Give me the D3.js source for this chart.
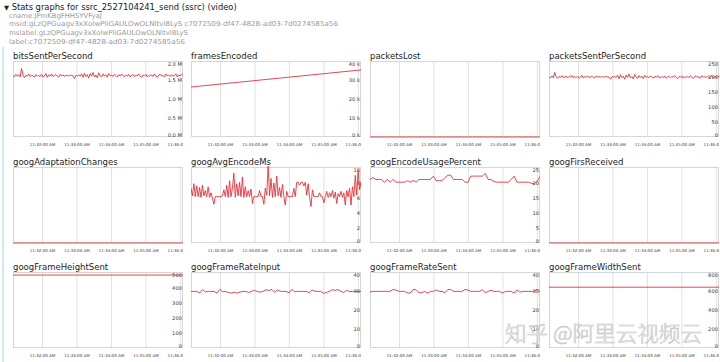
<!DOCTYPE html>
<html><head><meta charset="utf-8">
<script src="https://cdn.jsdelivr.net/npm/d3@7/dist/d3.min.js"></script>
<style>html,body{margin:0;padding:0;background:#fff;}svg{display:block}</style>
</head><body>
<svg id="chart" width="720" height="362"></svg>
<script>
// ---------- data ----------
const headerTitle = "Stats graphs for ssrc_2527104241_send (ssrc) (video)";
const metaLines = [
  "cname:JPmKBgFHH5YVFyaJ",
  "msid:gLzQPGuagv3xXolwPliGAULOwOLNltvl8LyS c7072509-df47-4828-ad03-7d0274585a56",
  "mslabel:gLzQPGuagv3xXolwPliGAULOwOLNltvl8LyS",
  "label:c7072509-df47-4828-ad03-7d0274585a56"
];
const graphNames = ["bitsSentPerSecond","framesEncoded","packetsLost","packetsSentPerSecond",
  "googAdaptationChanges","googAvgEncodeMs","googEncodeUsagePercent","googFirsReceived",
  "googFrameHeightSent","googFrameRateInput","googFrameRateSent","googFrameWidthSent"];
const watermark = "知乎 @阿里云视频云";

const startTime = new Date(2018, 0, 1, 11, 31, 9, 500);
const endTime   = new Date(2018, 0, 1, 11, 36, 5, 500);

// bitsSentPerSecond in Mbps
const bitsSentPerSecond = [
 1.62,1.59,1.65,1.60,1.64,1.58,1.80,1.63,1.56,1.62,
 1.60,1.66,1.59,1.63,1.61,1.57,1.64,1.60,1.62,1.59,
 1.65,1.58,1.61,1.67,1.57,1.63,1.60,1.66,1.59,1.62,
 1.64,1.60,1.58,1.65,1.61,1.63,1.60,1.62,1.62,1.61,
 1.63,1.62,1.61,1.54,1.62,1.61,1.63,1.60,1.66,1.57,
 1.68,1.59,1.64,1.55,1.67,1.60,1.70,1.58,1.63,1.56,
 1.69,1.61,1.58,1.66,1.60,1.64,1.57,1.67,1.61,1.63,
 1.59,1.65,1.62,1.58,1.64,1.60,1.66,1.61,1.59,1.63,
 1.60,1.65,1.58,1.62,1.64,1.59,1.63,1.61,1.66,1.60,
 1.57,1.63,1.61,1.65,1.58,1.62,1.60,1.64,1.59,1.66,
 1.61,1.57,1.63,1.65,1.60,1.62,1.58,1.66,1.61,1.63,
 1.59,1.64,1.60,1.62,1.66,1.58,1.63,1.61,1.65,1.62];
const framesEncoded = [26300, 30800, 35300];
const packetsLost = [0, 0];
const packetsSentPerSecond = [
 197,194,201,195,212,198,193,199,196,202,
 195,198,200,194,199,197,203,195,198,196,
 200,193,197,203,194,199,196,201,195,198,
 200,196,194,201,197,199,196,198,198,197,
 199,198,197,190,198,197,199,196,203,192,
 205,195,200,190,204,196,207,194,199,191,
 206,197,193,202,196,200,192,203,197,199,
 195,201,198,193,200,196,202,197,194,199,
 196,201,193,198,200,195,199,197,202,196,
 192,199,197,201,193,198,196,200,195,202,
 197,192,199,201,196,198,193,202,197,199,
 195,200,196,198,202,194,199,197,201,198];
const googAdaptationChanges = [0, 0];
const googAvgEncodeMs = [
 7.2,6.2,7.8,6.1,7.5,6.1,7.3,6.0,7.6,6.2,
 6.9,6.1,7.4,6.0,6.6,5.9,5.1,6.1,6.1,6.1,
 6.1,6.1,6.2,7.0,6.1,7.6,6.0,8.2,6.1,7.2,
 9.2,6.0,7.8,6.2,8.0,6.1,8.7,6.0,7.4,6.1,
 6.9,6.1,7.1,5.2,6.1,6.1,6.1,6.1,6.9,6.1,
 6.1,5.1,7.2,6.3,10.2,6.2,8.5,6.0,7.9,6.1,
 8.8,6.2,7.3,6.0,7.7,6.1,5.0,6.8,6.1,6.1,
 6.1,6.1,7.2,6.1,8.0,8.0,7.6,8.0,8.0,7.5,
 8.0,6.3,7.8,6.0,4.8,7.0,6.1,6.1,6.1,6.1,
 6.6,6.1,6.1,5.3,6.1,6.8,6.0,6.6,6.1,6.9,
 5.9,6.7,5.2,6.5,6.1,6.8,6.0,6.6,5.0,6.9,
 6.1,7.2,5.0,7.4,6.1,8.9,6.3,9.6,7.0,8.1];
const googEncodeUsagePercent = [
 20.9,21.5,20.9,20.9,20.9,20.0,20.9,20.0,20.9,20.0,
 20.0,20.0,20.0,20.5,20.0,20.6,20.0,20.9,20.9,20.9,
 20.9,20.9,22.0,20.5,20.5,20.5,21.5,22.3,22.3,20.9,
 20.9,20.9,20.9,20.0,20.0,22.0,22.0,22.0,22.0,22.0,
 22.9,20.9,20.9,20.2,20.0,20.0,20.0,20.0,20.0,20.9,
 22.0,20.0,20.0,20.0,20.0,20.0,19.6,19.6,20.2,21.9];
const googFirsReceived = [0, 0];
const googFrameHeightSent = [480, 480];
const googFrameRateInput = [
 29.8,29.8,29.8,28.9,30.8,29.5,29.8,29.8,29.8,28.8,
 30.9,29.6,29.8,29.2,28.9,29.3,28.9,29.5,29.8,29.8,
 29.2,29.8,30.3,29.8,29.4,29.8,30.7,30.2,30.9,29.3,
 30.6,29.8,29.8,29.8,29.0,30.8,29.6,29.8,29.8,29.8,
 29.8,29.1,30.6,29.8,29.8,29.8,28.8,29.2,29.8,30.7,
 30.3,30.8,29.8,29.3,30.4,29.6,29.8,29.8,29.8,29.8];
const googFrameRateSent = [
 29.5,29.8,29.8,29.8,29.8,29.8,29.8,29.8,30.8,30.5,
 29.8,29.8,29.8,29.0,28.9,30.9,30.7,29.0,29.2,29.8,
 28.8,29.8,29.8,30.6,29.8,29.8,29.1,30.7,30.8,29.8,
 29.8,29.8,29.8,30.8,30.5,29.8,29.8,29.8,29.8,30.6,
 29.1,29.8,30.4,29.8,29.8,29.8,28.9,29.8,29.8,29.8,
 28.9,30.6,29.4,29.8,29.8,29.8,29.8,29.8,30.9,29.6];
const googFrameWidthSent = [640, 640];

const yMaxes = [2.0, 40000, 1, 250, 1, 10, 25, 1, 500, 40, 40, 800];
const tickValues = [
  [0,0.5,1,1.5,2], [0,10000,20000,30000,40000], [], [0,50,100,150,200,250],
  [], [0,2,4,6,8,10], [0,5,10,15,20,25], [],
  [0,100,200,300,400,500], [0,10,20,30,40], [0,10,20,30,40], [0,200,400,600,800]];
const tickLabels = [
  ["0.0 M","0.5 M","1.0 M","1.5 M","2.0 M"], ["0 k","10 k","20 k","30 k","40 k"], [], ["0","50","100","150","200","250"],
  [], ["0","2","4","6","8","10"], ["0","5","10","15","20","25"], [],
  ["0","100","200","300","400","500"], ["0","10","20","30","40"], ["0","10","20","30","40"], ["0","200","400","600","800"]];
const seriesList = [bitsSentPerSecond, framesEncoded, packetsLost, packetsSentPerSecond,
  googAdaptationChanges, googAvgEncodeMs, googEncodeUsagePercent, googFirsReceived,
  googFrameHeightSent, googFrameRateInput, googFrameRateSent, googFrameWidthSent];

// ---------- drawing ----------
const svg = d3.select("#chart");
const defs = svg.append("defs");
const FONT = "'DejaVu Sans', 'Lucida Grande', sans-serif";

// left panel border
svg.append("line").attr("x1", 3).attr("x2", 3).attr("y1", 47).attr("y2", 362)
  .attr("stroke", "#c4e5ee").attr("stroke-width", 1.6);

// header
svg.append("text").attr("x", 4).attr("y", 9.6).attr("font-family", FONT).attr("font-size", 6.5)
  .attr("fill", "#222").text("▼");
svg.append("text").attr("x", 11.7).attr("y", 10).attr("font-family", FONT).attr("font-size", 8.2)
  .attr("fill", "#1a1a1a").attr("textLength", 225).attr("lengthAdjust", "spacingAndGlyphs").text(headerTitle);
const metaWidths = [92.7, 329, 179, 176];
const metaY = [17.6, 26.4, 35.0, 43.6];
metaLines.forEach((t, i) => {
  svg.append("text").attr("x", 9).attr("y", metaY[i]).attr("font-family", FONT).attr("font-size", 6.8)
    .attr("fill", "#9a9a9a").attr("textLength", metaWidths[i]).attr("lengthAdjust", "spacingAndGlyphs").text(t);
});

const colX = [13, 191, 370, 549], rowY = [61, 167, 272];
const W = 170, H = 76;
const x = d3.scaleTime().domain([startTime, endTime]).range([0, W]);
const minuteTicks = d3.timeMinute.every(1);
const fmt = d3.timeFormat("%-I:%M:%S %p");

graphNames.forEach((name, i) => {
  const gx = colX[i % 4], gy = rowY[Math.floor(i / 4)];
  const values = seriesList[i];
  const y = d3.scaleLinear().domain([0, yMaxes[i]]).range([H, 0]);
  const g = svg.append("g").attr("transform", `translate(${gx},${gy})`);
  const cid = "clip" + i;
  defs.append("clipPath").attr("id", cid).append("rect")
    .attr("x", 0).attr("y", -1).attr("width", W).attr("height", H + 14);

  g.append("text").attr("x", 0).attr("y", -2).attr("font-family", FONT).attr("font-size", 8.5)
    .attr("fill", "#1e1e1e").text(name);

  const inner = g.append("g").attr("clip-path", `url(#${cid})`);

  // vertical gridlines
  const grid = inner.append("g").attr("transform", `translate(0,${H})`)
    .call(d3.axisBottom(x).ticks(minuteTicks).tickSize(-H).tickFormat(""));
  grid.select(".domain").remove();
  grid.selectAll("line").attr("stroke", "#dedede").attr("stroke-width", 0.9);

  // plot frame
  inner.append("rect").attr("x", 0.5).attr("y", 0.5).attr("width", W - 1).attr("height", H - 1)
    .attr("fill", "none").attr("stroke", "#d6d6d6").attr("stroke-width", 1);

  // time labels
  const tAxis = inner.append("g").attr("transform", `translate(0,${H})`)
    .call(d3.axisBottom(x).ticks(minuteTicks).tickSize(0).tickPadding(0).tickFormat(fmt));
  tAxis.select(".domain").remove();
  tAxis.selectAll("text").attr("y", 8.6).attr("dy", null).attr("font-family", FONT)
    .attr("font-size", 3.9).attr("fill", "#3a3a3a")
    .attr("textLength", 25.5).attr("lengthAdjust", "spacingAndGlyphs");

  // y labels (inside, right-aligned)
  if (tickValues[i].length) {
    const labs = tickLabels[i];
    const yAxis = inner.append("g").attr("transform", `translate(${W - 1},0)`)
      .call(d3.axisLeft(y).tickValues(tickValues[i]).tickSize(0).tickPadding(0)
        .tickFormat((d, k) => labs[k]));
    yAxis.select(".domain").remove();
    yAxis.selectAll("text").attr("font-family", FONT).attr("font-size", 5.2).attr("fill", "#3a3a3a")
      .attr("dy", d => d === yMaxes[i] ? "0.95em" : (d === 0 ? "-0.15em" : "0.35em"));
  }

  // data line
  const n = values.length;
  const span = endTime - startTime;
  const times = values.map((_, j) => new Date(+startTime + span * j / (n - 1)));
  const line = d3.line().x((d, j) => x(times[j])).y(d => y(d));
  inner.append("path").datum(values).attr("d", line).attr("fill", "none")
    .attr("stroke", "#e2333b").attr("stroke-width", 0.9).attr("stroke-linejoin", "round");
});

// watermark
svg.append("text").attr("x", 505).attr("y", 340.5)
  .attr("font-family", "'Noto Sans CJK SC', sans-serif").attr("font-size", 21).attr("font-weight", 300)
  .attr("fill", "#ffffff").attr("fill-opacity", 0.9).attr("stroke", "#c2c2c2").attr("stroke-width", 0.6)
  .attr("textLength", 197).attr("lengthAdjust", "spacingAndGlyphs").text(watermark);
</script>
</body></html>
